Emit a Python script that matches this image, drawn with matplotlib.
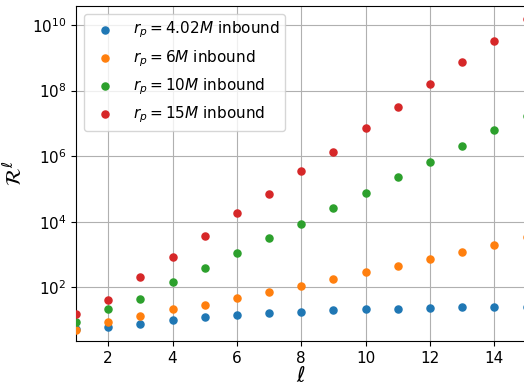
"""Ratio R^l against multipole l for several inbound r_p orbits."""
import matplotlib
matplotlib.use("Agg")
import matplotlib.pyplot as plt

ell = list(range(1, 16))

# values (log axis)
r_402 = [5.2, 6.0, 7.7, 10.0, 12.6, 14.5, 16.5, 17.7, 20.4, 21.4, 22.0, 23.0, 24.5, 24.5, 25.7]
r_6 = [4.8, 8.7, 13.5, 22, 29.5, 46, 72, 110, 175, 293, 445, 750, 1170, 2000, 3300]
r_10 = [8.7, 21.8, 44, 145, 380, 1120, 3240, 8500, 2.7e4, 7.4e4, 2.35e5, 6.5e5, 2.0e6, 6.2e6, 1.66e7]
r_15 = [15.5, 41, 211, 860, 3700, 1.86e4, 6.9e4, 3.6e5, 1.35e6, 7.4e6, 3.2e7, 1.55e8, 7.3e8, 3.3e9, 1.5e10]

series = [
    (r_402, r"$r_p = 4.02M$ inbound"),
    (r_6, r"$r_p = 6M$ inbound"),
    (r_10, r"$r_p = 10M$ inbound"),
    (r_15, r"$r_p = 15M$ inbound"),
]

fig = plt.figure(figsize=(5.24, 3.84), dpi=100)
# axes run slightly past the right edge, like the cropped original
ax = fig.add_axes([76 / 524, 43 / 384, 450.6 / 524, 335 / 384])

for vals, label in series:
    ax.scatter(ell, vals, s=26, label=label, zorder=3)

ax.set_yscale("log")
ax.set_xlim(1, 15)
ax.set_ylim(2.29, 3.8e10)
ax.set_yticks([1e2, 1e4, 1e6, 1e8, 1e10])
ax.minorticks_off()
ax.set_xticks([2, 4, 6, 8, 10, 12, 14])
ax.tick_params(labelsize=11)
ax.grid(True, color="#b0b0b0", linewidth=0.8)
ax.set_axisbelow(True)
ax.set_xlabel(r"$\ell$", fontsize=15, labelpad=0)
ax.set_ylabel(r"$\mathcal{R}^\ell$", fontsize=15)
ax.legend(loc="upper left", fontsize=11)

fig.savefig("out.png", dpi=100)
